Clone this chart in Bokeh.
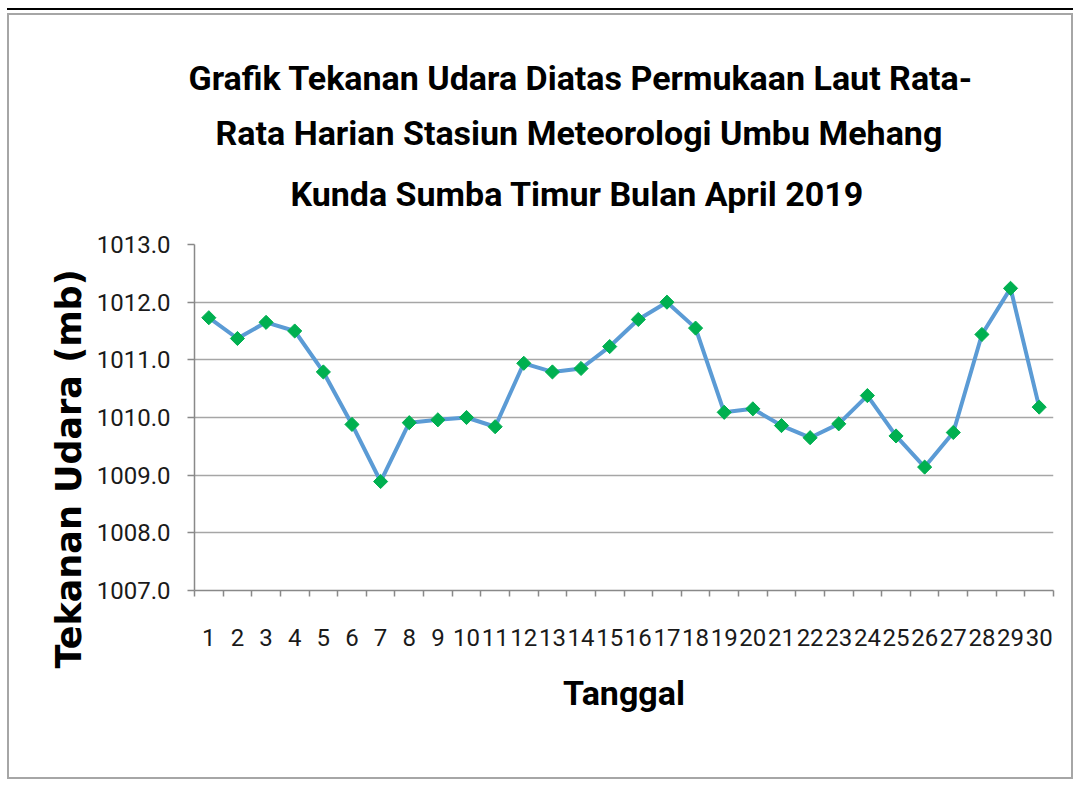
import math
from bokeh.plotting import figure
from bokeh.models import FixedTicker, Title, Range1d, PrintfTickFormatter
from bokeh.embed import file_html
from bokeh.resources import INLINE

# ---- data ----
days = ["1", "2", "3", "4", "5", "6", "7", "8", "9", "10",
        "11", "12", "13", "14", "15", "16", "17", "18", "19", "20",
        "21", "22", "23", "24", "25", "26", "27", "28", "29", "30"]
pressure = [1011.73, 1011.37, 1011.65, 1011.50, 1010.79, 1009.88, 1008.89, 1009.91,
            1009.96, 1010.00, 1009.84, 1010.94, 1010.79, 1010.85, 1011.23, 1011.70,
            1012.00, 1011.55, 1010.09, 1010.15, 1009.86, 1009.65, 1009.89, 1010.38,
            1009.68, 1009.14, 1009.74, 1011.44, 1012.24, 1010.18]
y_ticks = [1007.0, 1008.0, 1009.0, 1010.0, 1011.0, 1012.0, 1013.0]
title_lines = ["Grafik Tekanan Udara Diatas Permukaan Laut Rata-",
               "Rata Harian Stasiun Meteorologi Umbu Mehang",
               "Kunda Sumba Timur Bulan April 2019"]
x_title = "Tanggal"
y_title = "Tekanan Udara (mb)"

x = list(range(1, len(days) + 1))
boundaries = [i + 0.5 for i in range(0, len(days) + 1)]

font = "Roboto"
title_size = "34px"

W, H = 1066, 766
p = figure(width=W, height=H, output_backend="svg", toolbar_location=None,
           x_range=Range1d(0.5, len(days) + 0.5), y_range=Range1d(y_ticks[0], y_ticks[-1]),
           min_border_left=185, min_border_right=22, min_border_top=229, min_border_bottom=191)
p.outline_line_color = None
p.background_fill_color = "white"
p.border_fill_color = "white"
p.styles = {"margin-top": "13px", "margin-left": "7px", "border": "2px solid #a6a6a6",
            "box-shadow": "0 -3px 0 0 white, 0 -5px 0 0 black"}

# title: built-in title is the outermost line; the added ones stack from the frame outward
title_offsets = [-6, 21, 96]
title_standoffs = [49, -23, 61]
p.title.text = title_lines[0]
p.title.align = "left"
p.title.offset = title_offsets[0]
p.title.standoff = title_standoffs[0]
p.title.text_font = font
p.title.text_font_style = "bold"
p.title.text_font_size = title_size
p.title.text_color = "black"
for idx in (2, 1):
    p.add_layout(Title(text=title_lines[idx], align="left", offset=title_offsets[idx],
                       standoff=title_standoffs[idx], text_font=font,
                       text_font_style="bold", text_font_size=title_size,
                       text_color="black"), "above")

p.line(x, pressure, line_color="#5b9bd5", line_width=4)
p.scatter(x, pressure, marker="square", size=10, angle=math.pi / 4,
          fill_color="#00b050", line_color="#00b050", line_width=1)

p.xgrid.visible = False
p.ygrid.grid_line_color = "#a6a6a6"
p.ygrid.grid_line_width = 1.5

# y axis
yax = p.yaxis[0]
yax.ticker = FixedTicker(ticks=y_ticks)
yax.formatter = PrintfTickFormatter(format="%.1f")
yax.axis_line_color = "#898989"
yax.axis_line_width = 1.5
yax.major_tick_line_color = "#898989"
yax.major_tick_line_width = 1.5
yax.major_tick_out = 7
yax.major_tick_in = 0
yax.minor_tick_line_color = None
yax.major_label_standoff = 17
yax.major_label_text_font = font
yax.major_label_text_font_size = "24px"
yax.major_label_text_color = "#1a1a1a"

# rotated y title in the left panel, shifted down as in the reference
p.add_layout(Title(text=y_title, align="left", offset=-78, standoff=10,
                   text_font="DejaVu Sans", text_font_style="bold",
                   text_font_size="35px", text_color="black"), "left")

# x axis
xax = p.xaxis[0]
xax.ticker = FixedTicker(ticks=x, minor_ticks=boundaries)
xax.major_label_overrides = {i: d for i, d in zip(x, days)}
xax.axis_line_color = "#898989"
xax.axis_line_width = 1.5
xax.major_tick_line_color = None
xax.major_tick_out = 0
xax.major_tick_in = 0
xax.minor_tick_line_color = "#898989"
xax.minor_tick_line_width = 1.5
xax.minor_tick_out = 6
xax.minor_tick_in = 0
xax.major_label_standoff = 32
xax.major_label_text_font = font
xax.major_label_text_font_size = "24px"
xax.major_label_text_color = "#1a1a1a"
xax.axis_label = x_title
xax.axis_label_text_font = font
xax.axis_label_text_font_style = "bold"
xax.axis_label_text_font_size = "34px"
xax.axis_label_text_color = "black"
xax.axis_label_standoff = 24

open("out.html", "w").write(file_html(p, INLINE))
